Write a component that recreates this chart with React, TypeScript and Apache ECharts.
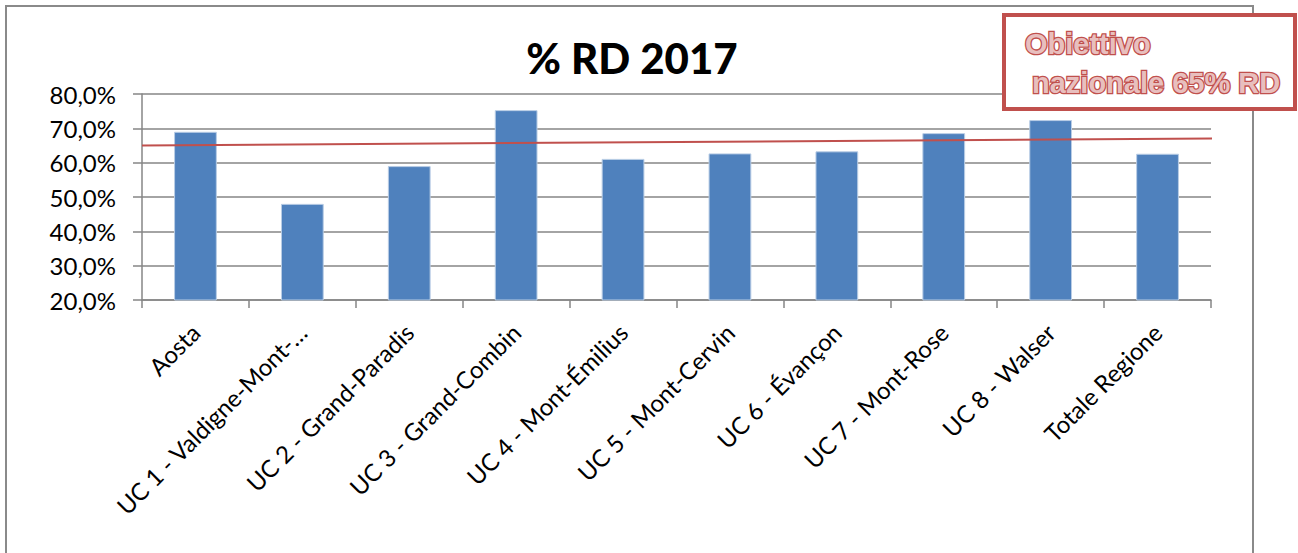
import React, { useEffect, useRef } from "react";
import * as echarts from "echarts";

const categories = [
  "Aosta",
  "UC 1 - Valdigne-Mont-…",
  "UC 2 - Grand-Paradis",
  "UC 3 - Grand-Combin",
  "UC 4 - Mont-Émilius",
  "UC 5 - Mont-Cervin",
  "UC 6 - Évançon",
  "UC 7 - Mont-Rose",
  "UC 8 - Walser",
  "Totale Regione",
];
const rdValues = [69.0, 48.0, 59.0, 75.3, 61.1, 62.7, 63.3, 68.6, 72.4, 62.6];
// hand-drawn target line: [fraction of plot width, value]
const targetLine: [number, number][] = [
  [0, 65.0],
  [1.026, 67.1],
];
const yTicks = { min: 20, max: 80, interval: 10 };
const titleText = "% RD 2017";
const noteLines = ["Obiettivo", "nazionale 65% RD"];

export default function App() {
  const ref = useRef<HTMLDivElement>(null);
  useEffect(() => {
    if (!ref.current) return;
    const chart = echarts.init(ref.current, undefined, { renderer: "svg" });
    const red = "#C0504D";
    chart.setOption({
      animation: false,
      backgroundColor: "#fff",
      title: {
        text: titleText,
        left: 627,
        top: 32,
        textAlign: "center",
        textStyle: { fontFamily: "Lato", fontWeight: 900, fontSize: 42, color: "#000" },
      },
      grid: { left: 142, right: 87, top: 94, bottom: 253, containLabel: false },
      xAxis: [
        {
          type: "category",
          data: categories,
          axisLine: { lineStyle: { color: "#868686", width: 1.5 } },
          axisTick: { show: true, length: 8, lineStyle: { color: "#868686", width: 1.5 } },
          axisLabel: {
            interval: 0,
            rotate: 45,
            margin: 28,
            fontFamily: "Lato",
            fontSize: 24,
            color: "#000",
          },
        },
        { type: "value", min: 0, max: 1, show: false },
      ],
      yAxis: {
        type: "value",
        min: yTicks.min,
        max: yTicks.max,
        interval: yTicks.interval,
        axisLine: { show: true, lineStyle: { color: "#868686", width: 1.5 } },
        axisTick: { show: true, length: 9, lineStyle: { color: "#868686", width: 1.5 } },
        splitLine: { lineStyle: { color: "#868686", width: 1.5 } },
        axisLabel: {
          margin: 26,
          fontFamily: "Lato",
          fontSize: 24,
          color: "#000",
          formatter: (v: number) => v.toFixed(1).replace(".", ",") + "%",
        },
      },
      series: [
        {
          type: "bar",
          data: rdValues,
          barWidth: "40%",
          itemStyle: { color: "#4F81BD", borderColor: "#b9cde5", borderWidth: 1 },
        },
        {
          type: "line",
          xAxisIndex: 1,
          data: targetLine,
          symbol: "none",
          clip: false,
          lineStyle: { color: red, width: 2 },
          z: 5,
        },
      ],
      graphic: [
        {
          type: "rect",
          shape: { x: 6, y: 6, width: 1247, height: 620 },
          style: { fill: "none", stroke: "#8a8a8a", lineWidth: 2 },
          z: 0,
        },
        {
          type: "rect",
          shape: { x: 1004, y: 15, width: 291, height: 94 },
          style: { fill: "#fff", stroke: red, lineWidth: 4 },
          z: 10,
        },
        {
          type: "text",
          x: 1025,
          y: 44,
          style: {
            text: noteLines[0],
            fontFamily: "Liberation Sans",
            fontWeight: "bold",
            fontSize: 29,
            fill: "#E8BFBE",
            stroke: red,
            lineWidth: 2.6,
            align: "left",
            verticalAlign: "middle",
          },
          z: 11,
        },
        {
          type: "text",
          x: 1032,
          y: 83,
          style: {
            text: noteLines[1],
            fontFamily: "Liberation Sans",
            fontWeight: "bold",
            fontSize: 29,
            fill: "#E8BFBE",
            stroke: red,
            lineWidth: 2.6,
            align: "left",
            verticalAlign: "middle",
          },
          z: 11,
        },
      ],
    });
    return () => chart.dispose();
  }, []);
  return (
    <div
      ref={ref}
      style={{ position: "absolute", left: 0, top: 0, width: 1298, height: 553 }}
    />
  );
}
